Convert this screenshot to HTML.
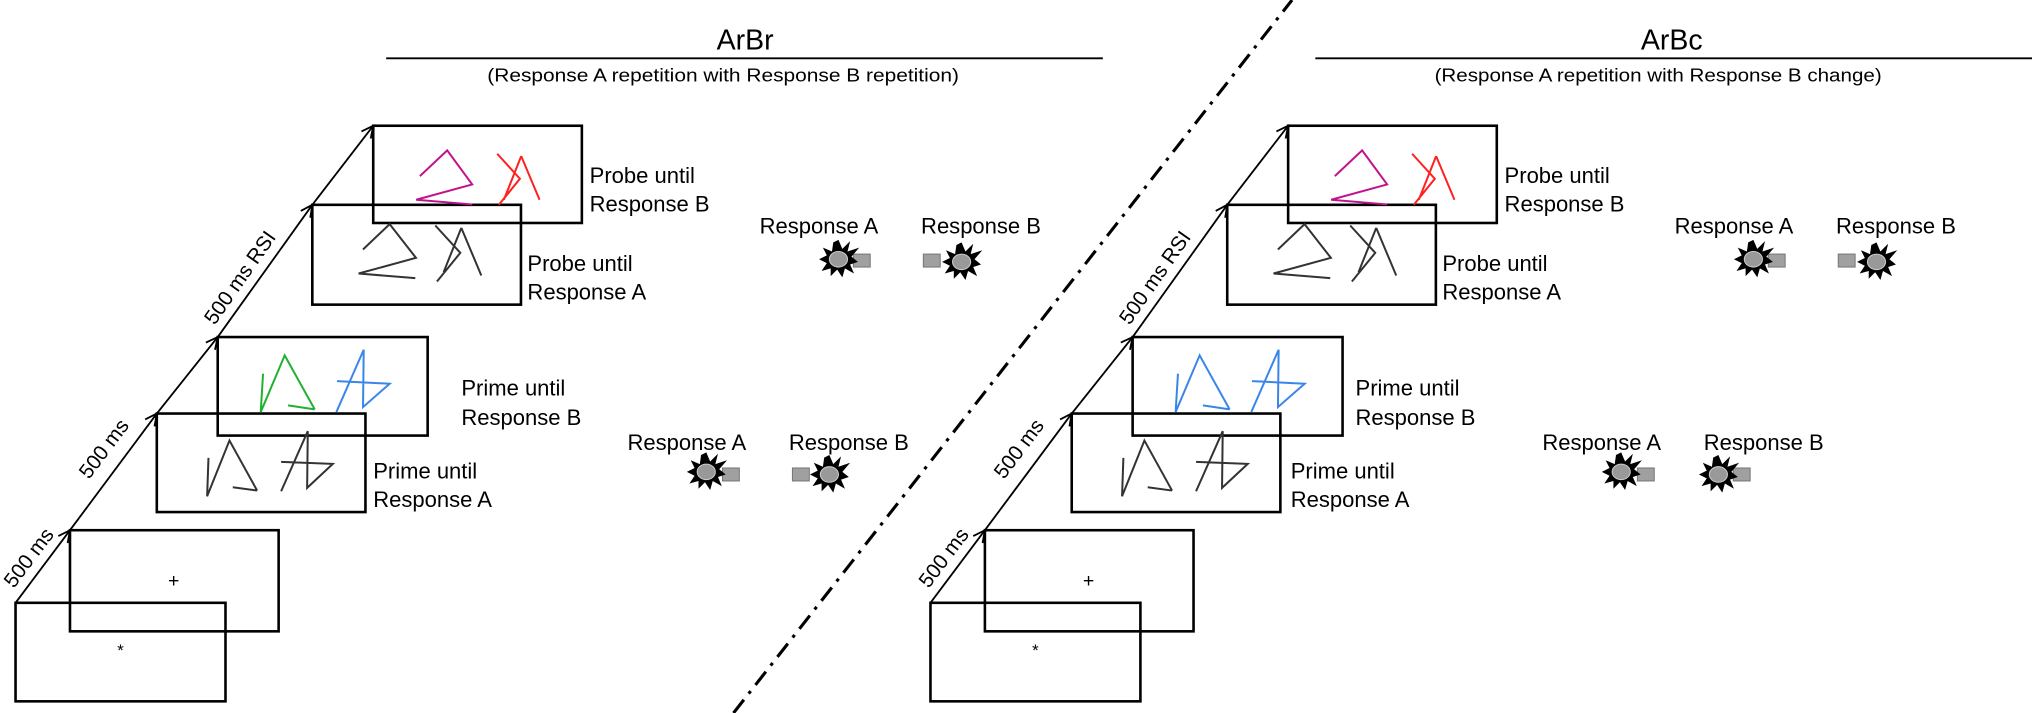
<!DOCTYPE html>
<html><head><meta charset="utf-8"><style>
html,body{margin:0;padding:0;background:#fff;}
svg{display:block;}
text{font-family:"Liberation Sans",sans-serif;fill:#000;}
</style></head><body>
<svg width="2032" height="713" viewBox="0 0 1568 550" preserveAspectRatio="none" xmlns="http://www.w3.org/2000/svg">
<defs>
<marker id="ah" markerWidth="12" markerHeight="12" refX="10" refY="6" orient="auto" markerUnits="userSpaceOnUse">
<path d="M1,1.5 L10,6 L1,10.5" fill="none" stroke="#000" stroke-width="1.4"/>
</marker>
<g id="burst">
<polygon points="0,-15 3,-8 9,-14 7,-6 16,-9 10,-2 15,2 9,4 12,11 5,7 3,14 -1,8 -6,13 -6,7 -13,9 -9,3 -15,0 -9,-3 -12,-9 -5,-6 -4,-13" fill="#000"/>
<ellipse cx="0" cy="0" rx="7" ry="6" fill="#999" stroke="#ccc" stroke-width="0.8"/>
</g>
<g id="sq"><rect x="-6.5" y="-5" width="13" height="10" fill="#a0a0a0" stroke="#777" stroke-width="0.8"/></g>
</defs>

<line x1="566" y1="550" x2="997" y2="0" stroke="#000" stroke-width="2.4" stroke-dasharray="13,6,2.5,6"/>

<!-- ================== LEFT PANEL ================== -->
<g>
<text x="575" y="38" font-size="22" text-anchor="middle">ArBr</text>
<line x1="298" y1="45" x2="851" y2="45" stroke="#000" stroke-width="1.5"/>
<text x="376" y="63" font-size="14" textLength="364" lengthAdjust="spacingAndGlyphs">(Response A repetition with Response B repetition)</text>

<g fill="none" stroke="#000" stroke-width="2">
<rect x="12" y="465" width="162" height="76"/>
<rect x="54" y="409" width="161" height="78"/>
<rect x="121" y="319" width="161" height="76"/>
<rect x="168" y="260" width="162" height="76"/>
<rect x="241" y="158" width="161" height="77"/>
<rect x="288" y="97" width="161" height="75"/>
</g>
<g stroke="#000" stroke-width="1.4" fill="none" marker-end="url(#ah)">
<line x1="12" y1="465" x2="54" y2="409"/>
<line x1="54" y1="409" x2="121" y2="319"/>
<line x1="121" y1="319" x2="168" y2="260"/>
<line x1="168" y1="260" x2="241" y2="158"/>
<line x1="241" y1="158" x2="288" y2="97"/>
</g>
<text font-size="16" transform="translate(22,430) rotate(-53)" text-anchor="middle" dy="0.35em">500 ms</text>
<text font-size="16" transform="translate(80,346) rotate(-53)" text-anchor="middle" dy="0.35em">500 ms</text>
<text font-size="16" transform="translate(185,214) rotate(-55)" text-anchor="middle" dy="0.35em">500 ms RSI</text>

<text x="134" y="453" font-size="15" text-anchor="middle">+</text>
<text x="93" y="506" font-size="13" text-anchor="middle">*</text>

<g transform="translate(121,319) scale(0.2572)" fill="none" stroke="#333" stroke-width="6">
<path d="M155,133 L151,248 L218,81 L301,231 M228,221 L301,231"/>
<path d="M373,233 L453,53 L451,223 L528,151 L373,145"/>
</g>
<g transform="translate(168,260) scale(0.2572)" fill="none" stroke-width="6">
<path d="M136,110 L129,225 L201,55 L291,217 M211,205 L291,217" stroke="#22b030"/>
<path d="M356,225 L438,38 L436,210 L516,140 L358,132" stroke="#3a86e8"/>
</g>
<g transform="translate(241,158) scale(0.2572)" fill="none" stroke="#333" stroke-width="6">
<path d="M152,134 L232,58 L311,159 L139,206 L309,220"/>
<path d="M369,62 L444,144 L374,230 M447,69 L507,212 M447,69 L394,202"/>
</g>
<g transform="translate(288,97) scale(0.2572)" fill="none" stroke-width="6">
<path d="M140,151 L222,74 L297,176 L129,222 L297,236" stroke="#c0148c"/>
<path d="M372,84 L440,159 L377,237 M444,91 L499,222 M444,91 L392,222" stroke="#ff2020"/>
</g>

<g font-size="17">
<text x="455" y="141">Probe until</text><text x="455" y="163">Response B</text>
<text x="407" y="209">Probe until</text><text x="407" y="231">Response A</text>
<text x="356" y="305">Prime until</text><text x="356" y="328">Response B</text>
<text x="288" y="369">Prime until</text><text x="288" y="391">Response A</text>
<text x="632" y="180" text-anchor="middle">Response A</text>
<text x="757" y="180" text-anchor="middle">Response B</text>
<text x="530" y="347" text-anchor="middle">Response A</text>
<text x="655" y="347" text-anchor="middle">Response B</text>
</g>
<use href="#sq" x="665" y="201"/><use href="#burst" x="647" y="200"/>
<use href="#sq" x="719" y="201"/><use href="#burst" x="742" y="202"/>
<use href="#sq" x="564" y="366"/><use href="#burst" x="545" y="364"/>
<use href="#sq" x="618" y="366"/><use href="#burst" x="640" y="366"/>
</g>

<!-- ================== RIGHT PANEL ================== -->
<g transform="translate(706,0)">
<text x="584" y="38" font-size="22" text-anchor="middle">ArBc</text>
<line x1="309" y1="45" x2="862" y2="45" stroke="#000" stroke-width="1.5"/>
<text x="401" y="63" font-size="14" textLength="345" lengthAdjust="spacingAndGlyphs">(Response A repetition with Response B change)</text>

<g fill="none" stroke="#000" stroke-width="2">
<rect x="12" y="465" width="162" height="76"/>
<rect x="54" y="409" width="161" height="78"/>
<rect x="121" y="319" width="161" height="76"/>
<rect x="168" y="260" width="162" height="76"/>
<rect x="241" y="158" width="161" height="77"/>
<rect x="288" y="97" width="161" height="75"/>
</g>
<g stroke="#000" stroke-width="1.4" fill="none" marker-end="url(#ah)">
<line x1="12" y1="465" x2="54" y2="409"/>
<line x1="54" y1="409" x2="121" y2="319"/>
<line x1="121" y1="319" x2="168" y2="260"/>
<line x1="168" y1="260" x2="241" y2="158"/>
<line x1="241" y1="158" x2="288" y2="97"/>
</g>
<text font-size="16" transform="translate(22,430) rotate(-53)" text-anchor="middle" dy="0.35em">500 ms</text>
<text font-size="16" transform="translate(80,346) rotate(-53)" text-anchor="middle" dy="0.35em">500 ms</text>
<text font-size="16" transform="translate(185,214) rotate(-55)" text-anchor="middle" dy="0.35em">500 ms RSI</text>

<text x="134" y="453" font-size="15" text-anchor="middle">+</text>
<text x="93" y="506" font-size="13" text-anchor="middle">*</text>

<g transform="translate(121,319) scale(0.2572)" fill="none" stroke="#333" stroke-width="6">
<path d="M155,133 L151,248 L218,81 L301,231 M228,221 L301,231"/>
<path d="M373,233 L453,53 L451,223 L528,151 L373,145"/>
</g>
<g transform="translate(168,260) scale(0.2572)" fill="none" stroke-width="6" stroke="#3a86e8">
<path d="M136,110 L129,225 L201,55 L291,217 M211,205 L291,217"/>
<path d="M356,225 L438,38 L436,210 L516,140 L358,132"/>
</g>
<g transform="translate(241,158) scale(0.2572)" fill="none" stroke="#333" stroke-width="6">
<path d="M152,134 L232,58 L311,159 L139,206 L309,220"/>
<path d="M369,62 L444,144 L374,230 M447,69 L507,212 M447,69 L394,202"/>
</g>
<g transform="translate(288,97) scale(0.2572)" fill="none" stroke-width="6">
<path d="M140,151 L222,74 L297,176 L129,222 L297,236" stroke="#c0148c"/>
<path d="M372,84 L440,159 L377,237 M444,91 L499,222 M444,91 L392,222" stroke="#ff2020"/>
</g>

<g font-size="17">
<text x="455" y="141">Probe until</text><text x="455" y="163">Response B</text>
<text x="407" y="209">Probe until</text><text x="407" y="231">Response A</text>
<text x="340" y="305">Prime until</text><text x="340" y="328">Response B</text>
<text x="290" y="369">Prime until</text><text x="290" y="391">Response A</text>
<text x="632" y="180" text-anchor="middle">Response A</text>
<text x="757" y="180" text-anchor="middle">Response B</text>
<text x="530" y="347" text-anchor="middle">Response A</text>
<text x="655" y="347" text-anchor="middle">Response B</text>
</g>
<use href="#sq" x="665" y="201"/><use href="#burst" x="647" y="200"/>
<use href="#sq" x="719" y="201"/><use href="#burst" x="742" y="202"/>
<use href="#sq" x="564" y="366"/><use href="#burst" x="545" y="364"/>
<use href="#sq" x="638" y="366"/><use href="#burst" x="620" y="366"/>
</g>
</svg>
</body></html>
